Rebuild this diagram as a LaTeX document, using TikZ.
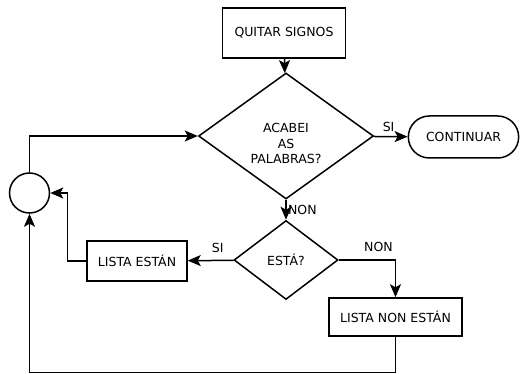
\documentclass[tikz,border=0pt]{standalone}
\usepackage{fontspec}
\setmainfont{DejaVu Sans}
\usetikzlibrary{arrows.meta, shapes, positioning}

\begin{document}
\begin{tikzpicture}[
                x=1pt, y=-1pt,
                line width=1.5pt,
                font=\fontsize{12.5}{15.5}\selectfont,
                arrowline/.style={-{Stealth[length=13pt, width=11pt, inset=3pt]}},
                procbox/.style={shape=rectangle, draw=black, align=center},
                decisionnode/.style={shape=diamond, draw=black, align=center, inner sep=0pt},
                endnode/.style={shape=rounded rectangle, draw=black, align=center},
                joinnode/.style={shape=circle, draw=black, inner sep=0pt}
            ]
                \useasboundingbox (0, 0) rectangle (531, 374);

                % Nodes
                \node[procbox, minimum width=123pt, minimum height=50pt] (quitar) at (284, 33) {QUITAR SIGNOS};
                \node[decisionnode, minimum width=175pt, minimum height=126pt] (acabei) at (286, 136)
                    {\raisebox{-9pt}[\height][\depth]{\begin{tabular}{@{}c@{}}ACABEI\\AS\\PALABRAS?\end{tabular}}};
                \node[endnode, minimum width=117pt, minimum height=42pt] (continuar) at (463.5, 137) {CONTINUAR};
                \node[joinnode, minimum size=40pt] (unir) at (29.5, 193) {};
                \node[decisionnode, minimum width=104pt, minimum height=79pt] (esta) at (286, 260) {ESTÁ?};
                \node[procbox, minimum width=100pt, minimum height=40pt] (estan) at (137, 261) {LISTA ESTÁN};
                \node[procbox, minimum width=133pt, minimum height=38pt] (nonestan) at (395.5, 317) {LISTA NON ESTÁN};

                % Connectors
                \draw[arrowline] (quitar) -- (acabei);
                \draw[arrowline] (acabei) -- node[above, yshift=1pt, xshift=-2pt] {SI} (continuar);
                \draw[arrowline] (acabei.south) -- node[right, xshift=-2pt] {NON} (esta.north);
                \draw[arrowline] (esta) -- node[above, pos=0.35, yshift=4pt] {SI} (estan);
                \draw[arrowline] (esta.east) -| node[above, pos=0.35, yshift=4pt] {NON} (nonestan.north);
                \draw[arrowline] (estan.west) -- ++(-19, 0) |- (unir.east);
                \draw[arrowline] (nonestan.south) -- ++(0, 36) -| (unir.south);
                \draw[arrowline] (unir.north) |- (acabei.west);
            \end{tikzpicture}
\end{document}
